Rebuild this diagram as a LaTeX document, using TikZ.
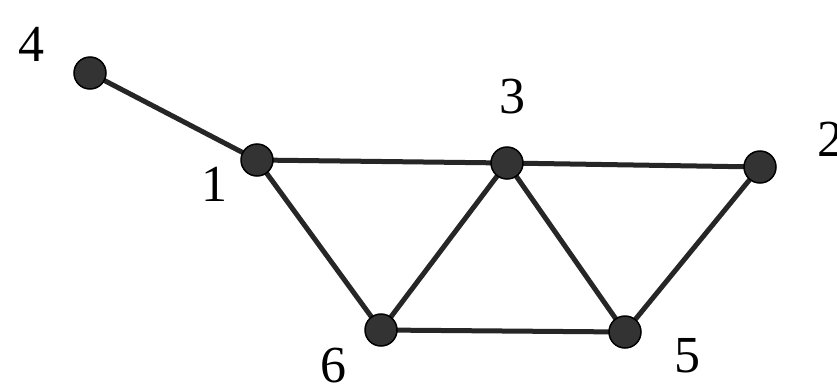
\documentclass[tikz,border=0pt]{standalone}
\usepackage{fontspec}
\setmainfont{Liberation Serif}
\begin{document}
\begin{tikzpicture}[x=1pt,y=-1pt,
  vert/.style={circle,fill=black!80,draw=black,line width=1.5pt,minimum size=32pt,inner sep=0pt},
  lab/.style={font=\fontsize{52}{52}\selectfont,inner sep=0pt},
  edge/.style={line width=5pt,black!85}]
\useasboundingbox (0,0) rectangle (837,383);
\fill[white] (0,0) rectangle (837,383);
\coordinate (p4) at (90,73);
\coordinate (p1) at (257,160);
\coordinate (p3) at (507,163);
\coordinate (p2) at (760,167);
\coordinate (p6) at (381,330);
\coordinate (p5) at (625,332);
\draw[edge] (p4) -- (p1);
\draw[edge] (p1) -- (p3);
\draw[edge] (p3) -- (p2);
\draw[edge] (p1) -- (p6);
\draw[edge] (p6) -- (p3);
\draw[edge] (p3) -- (p5);
\draw[edge] (p6) -- (p5);
\draw[edge] (p5) -- (p2);
\node[vert] (n4) at (p4) {};
\node[vert] (n1) at (p1) {};
\node[vert] (n3) at (p3) {};
\node[vert] (n2) at (p2) {};
\node[vert] (n6) at (p6) {};
\node[vert] (n5) at (p5) {};
\node[lab] (l4) at (31,44) {4};
\node[lab] (l1) at (214,184) {1};
\node[lab] (l3) at (512,97) {3};
\node[lab] (l2) at (830,139) {2};
\node[lab] (l6) at (333,366) {6};
\node[lab] (l5) at (687,356) {5};
\end{tikzpicture}
\end{document}
